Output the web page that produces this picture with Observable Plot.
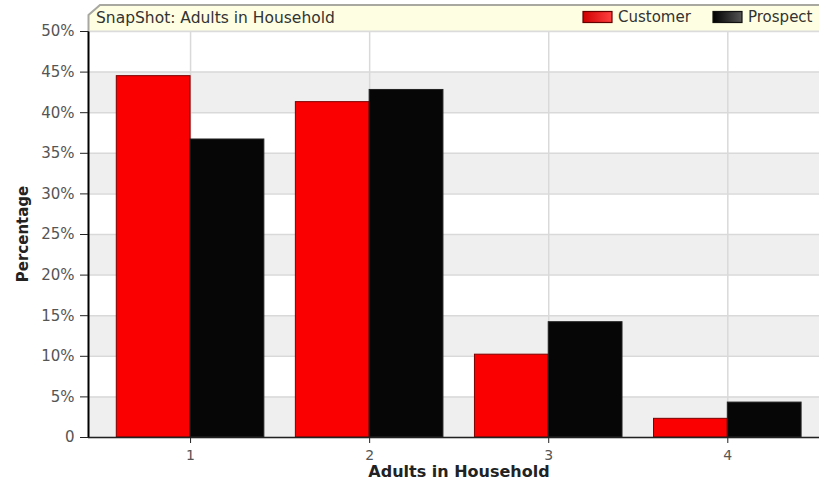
<!DOCTYPE html>
<html>
<head>
<meta charset="utf-8">
<script src="https://cdn.jsdelivr.net/npm/d3@7"></script>
<script src="https://cdn.jsdelivr.net/npm/@observablehq/plot@0.6"></script>
<style>
  html, body { margin: 0; padding: 0; background: #fff; }
  #chart { width: 819px; height: 482px; overflow: hidden; }
</style>
</head>
<body>
<div id="chart"></div>
<script>
// ---- data ----
const categories = [1, 2, 3, 4];
const customer = [44.5, 41.3, 10.2, 2.3];
const prospect = [36.7, 42.8, 14.2, 4.3];
const yTicks = [0, 5, 10, 15, 20, 25, 30, 35, 40, 45, 50];
const shadedBands = [0, 10, 20, 30, 40];
const seriesNames = ["Customer", "Prospect"];
const chartTitle = "SnapShot: Adults in Household";
const xTitle = "Adults in Household";
const yTitle = "Percentage";

const custRows = categories.map((c, i) => ({cat: c, value: customer[i]}));
const prosRows = categories.map((c, i) => ({cat: c, value: prospect[i]}));
const half = 0.412;
const xDomain = [0.43, 4.512];

const font = "DejaVu Sans, Verdana, sans-serif";

const svg = Plot.plot({
  width: 819,
  height: 482,
  marginLeft: 88,
  marginRight: 0,
  marginTop: 31,
  marginBottom: 45,
  style: {fontFamily: font, background: "#fff", overflow: "visible"},
  x: {domain: xDomain, axis: null},
  y: {domain: [0, 50], axis: null},
  marks: [
    Plot.rectY(shadedBands, {y1: d => d, y2: d => d + 5, fill: "#efefef"}),
    Plot.gridY(yTicks, {stroke: "#d9d9d9", strokeOpacity: 1, strokeWidth: 1.5}),
    Plot.gridX(categories, {stroke: "#d9d9d9", strokeOpacity: 1, strokeWidth: 1.5}),
    Plot.rectY(custRows, {x1: d => d.cat - half, x2: d => d.cat, y: "value", fill: "#fb0000", stroke: "#7a0000", strokeWidth: 1}),
    Plot.rectY(prosRows, {x1: d => d.cat, x2: d => d.cat + half, y: "value", fill: "#060606", stroke: "#222", strokeWidth: 1}),
    Plot.ruleY([0], {stroke: "#222", strokeWidth: 1.5}),
    Plot.ruleX([xDomain[0]], {stroke: "#000", strokeWidth: 2}),
    Plot.axisY(yTicks, {
      tickSize: 8, tickPadding: 6, fontSize: 15, fill: "#555", stroke: "#222",
      tickFormat: d => d === 0 ? "0" : d + "%", label: null
    }),
    Plot.axisX(categories, {
      tickSize: 6, stroke: "#222", tickFormat: () => "", label: null
    }),
    Plot.text(categories, {
      x: d => d, y: 0, text: d => String(d), dy: 13, lineAnchor: "top",
      fontSize: 14, fill: "#555"
    })
  ]
});

const root = d3.select(svg);
const defs = root.append("defs");
const g1 = defs.append("linearGradient").attr("id", "gradRed").attr("x1", 0).attr("x2", 1).attr("y1", 0).attr("y2", 0);
g1.append("stop").attr("offset", "0%").attr("stop-color", "#d00000");
g1.append("stop").attr("offset", "100%").attr("stop-color", "#ff4040");
const g2 = defs.append("linearGradient").attr("id", "gradBlack").attr("x1", 0).attr("x2", 1).attr("y1", 0).attr("y2", 0);
g2.append("stop").attr("offset", "0%").attr("stop-color", "#000");
g2.append("stop").attr("offset", "100%").attr("stop-color", "#555");

// header box
const hdr = root.append("g").attr("text-anchor", "start");
hdr.append("path")
  .attr("d", "M88.5,31 L88.5,15 L100,5 L820,5 L820,31 Z")
  .attr("fill", "#fefee2").attr("stroke", "none");
hdr.append("path").attr("d", "M88.5,31 L88.5,15 L100,5 L820,5")
  .attr("fill", "none").attr("stroke", "#a8a8a0").attr("stroke-width", 2);
hdr.append("line").attr("x1", 88.5).attr("x2", 820).attr("y1", 31).attr("y2", 31)
  .attr("stroke", "#ddd").attr("stroke-width", 1);
hdr.append("text").attr("x", 96).attr("y", 22.5).attr("text-anchor", "start")
  .attr("font-family", font).attr("font-size", 15.5).attr("fill", "#333")
  .text(chartTitle);

// legend
const legend = [
  {name: seriesNames[0], sx: 583, tx: 618, fill: "url(#gradRed)", stroke: "#600"},
  {name: seriesNames[1], sx: 713, tx: 748, fill: "url(#gradBlack)", stroke: "#111"}
];
legend.forEach(l => {
  hdr.append("rect").attr("x", l.sx).attr("y", 11.5).attr("width", 29).attr("height", 11)
    .attr("fill", l.fill).attr("stroke", l.stroke).attr("stroke-width", 1.2);
  hdr.append("text").attr("x", l.tx).attr("y", 21.5).attr("text-anchor", "start")
    .attr("font-family", font).attr("font-size", 15).attr("fill", "#333")
    .text(l.name);
});

// axis titles
root.append("text").attr("x", 459).attr("y", 477).attr("text-anchor", "middle")
  .attr("font-family", font).attr("font-size", 16).attr("font-weight", "bold").attr("fill", "#222")
  .text(xTitle);
root.append("text").attr("transform", "translate(28,234) rotate(-90)").attr("text-anchor", "middle")
  .attr("font-family", font).attr("font-size", 15).attr("font-weight", "bold").attr("fill", "#222")
  .text(yTitle);

document.getElementById("chart").appendChild(svg);
</script>
</body>
</html>
